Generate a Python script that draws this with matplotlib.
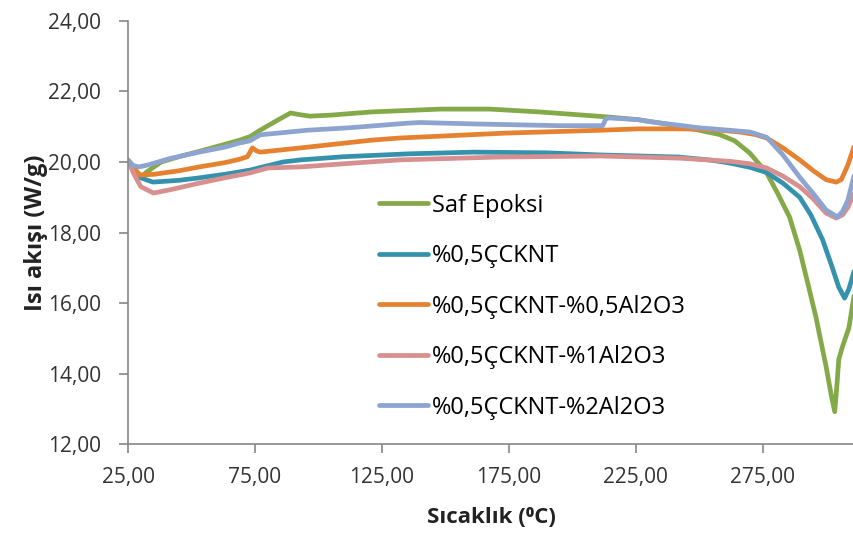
import numpy as np
import matplotlib.pyplot as plt

plt.rcParams['font.family'] = ['Open Sans', 'DejaVu Sans']

# Saf Epoksi
t_saf = [25, 27, 29.5, 33, 38, 45, 53, 63, 69, 73, 77, 83, 89, 92, 96.6, 105, 121, 148, 167.5,
         187, 213.6, 226, 242, 250, 258, 264, 270, 276.6, 281, 285.6, 289.6, 293, 296, 300, 302,
         303.4, 304.2, 305, 306.4, 309, 311]
q_saf = [20.05, 19.85, 19.55, 19.75, 20.0, 20.15, 20.3, 20.5, 20.62, 20.72, 20.9, 21.15, 21.39,
         21.35, 21.3, 21.33, 21.42, 21.5, 21.5, 21.42, 21.28, 21.2, 21.02, 20.9, 20.78, 20.6,
         20.25, 19.69, 19.1, 18.44, 17.5, 16.5, 15.6, 14.2, 13.4, 12.92, 13.6, 14.4, 14.75, 15.3, 16.2]

# %0,5ÇCKNT
t_cnt = [25, 27, 30, 34.8, 45, 53, 63, 73, 86, 93, 110, 135, 161, 190, 211, 242, 255, 262, 270,
         276.6, 283, 289.6, 294, 298.6, 302, 305, 307.3, 309, 311]
q_cnt = [20.05, 19.8, 19.55, 19.43, 19.48, 19.55, 19.65, 19.77, 20.0, 20.06, 20.15, 20.23, 20.28,
         20.26, 20.2, 20.14, 20.05, 19.97, 19.85, 19.7, 19.4, 19.0, 18.5, 17.8, 17.1, 16.45, 16.14,
         16.4, 16.9]

# %0,5ÇCKNT-%0,5Al2O3
t_a05 = [25, 27, 29.7, 35, 45, 53, 63, 69, 72, 74, 75.5, 77, 85, 93, 121, 132, 174, 211, 226, 242,
         255, 266, 272, 276.6, 283, 289.6, 295, 300, 304, 306, 308.5, 311]
q_a05 = [20.05, 19.85, 19.63, 19.65, 19.75, 19.86, 19.98, 20.08, 20.15, 20.4, 20.32, 20.28, 20.34,
         20.4, 20.62, 20.68, 20.82, 20.9, 20.94, 20.94, 20.92, 20.85, 20.78, 20.68, 20.4, 20.06,
         19.75, 19.5, 19.43, 19.5, 19.9, 20.43]

# %0,5ÇCKNT-%1Al2O3
t_a1 = [25, 27, 30, 35, 42, 53, 63, 73, 80, 93, 110, 132, 171, 211, 242, 262, 270, 276.6, 283,
        289.6, 295, 300, 304, 306.5, 308.5, 311]
q_a1 = [20.05, 19.7, 19.3, 19.12, 19.22, 19.4, 19.55, 19.69, 19.83, 19.86, 19.95, 20.06, 20.14,
        20.17, 20.11, 20.02, 19.95, 19.83, 19.6, 19.3, 18.95, 18.55, 18.41, 18.5, 18.7, 19.1]

# %0,5ÇCKNT-%2Al2O3
t_a2 = [25, 27, 29.3, 33, 41.5, 53, 63, 69, 73, 77, 95.5, 112, 135, 140, 161, 195, 212, 213.2,
        214.5, 226, 230, 250, 262, 270, 276.6, 283, 289.6, 295, 300, 304.5, 306.5, 308.5, 311]
q_a2 = [20.05, 19.9, 19.86, 19.92, 20.1, 20.28, 20.42, 20.54, 20.6, 20.77, 20.9, 20.97, 21.1, 21.12,
        21.08, 21.03, 21.03, 21.22, 21.25, 21.2, 21.15, 20.97, 20.9, 20.85, 20.7, 20.2, 19.57,
        19.1, 18.64, 18.44, 18.6, 18.9, 19.6]

names = ['Saf Epoksi', '%0,5ÇCKNT', '%0,5ÇCKNT-%0,5Al2O3', '%0,5ÇCKNT-%1Al2O3', '%0,5ÇCKNT-%2Al2O3']
colors = ['#84A948', '#3592AC', '#E5812F', '#D7908F', '#8DA4D1']

x_ticks = [25, 75, 125, 175, 225, 275]
x_labels = ['25,00', '75,00', '125,00', '175,00', '225,00', '275,00']
y_ticks = [12, 14, 16, 18, 20, 22, 24]
y_labels = ['12,00', '14,00', '16,00', '18,00', '20,00', '22,00', '24,00']

fig = plt.figure(figsize=(8.54, 5.37), dpi=100)
ax = fig.add_axes([0.150, 0.173, 0.850, 0.788])

series = [(t_saf, q_saf), (t_cnt, q_cnt), (t_a05, q_a05), (t_a1, q_a1), (t_a2, q_a2)]
for (t, q), name, c in zip(series, names, colors):
    ax.plot(t, q, color=c, lw=3.4, label=name, solid_capstyle='round', solid_joinstyle='round')

ax.set_xlim(25, 311)
ax.set_ylim(12, 24)
ax.set_xticks(x_ticks)
ax.set_xticklabels(x_labels)
ax.set_yticks(y_ticks)
ax.set_yticklabels(y_labels)

for s in ['top', 'right']:
    ax.spines[s].set_visible(False)
for s in ['left', 'bottom']:
    ax.spines[s].set_color('#868686')
    ax.spines[s].set_linewidth(1.2)
ax.tick_params(axis='both', direction='out', length=6.5, width=1.2, color='#868686',
               labelsize=15, labelcolor='#333333')
ax.tick_params(axis='y', pad=13)
ax.tick_params(axis='x', pad=10)

ax.set_xlabel('Sıcaklık (⁰C)', fontsize=16, fontweight='bold', color='#222222', labelpad=14)
ax.set_ylabel('Isı akışı (W/g)', fontsize=17, fontweight='bold', color='#222222', labelpad=0)

leg = ax.legend(loc='upper left', bbox_to_anchor=(0.332, 0.614), frameon=False, fontsize=17,
                handlelength=2.1, handletextpad=0.15, labelspacing=1.12, borderaxespad=0)

fig.savefig('out.png', dpi=100)
